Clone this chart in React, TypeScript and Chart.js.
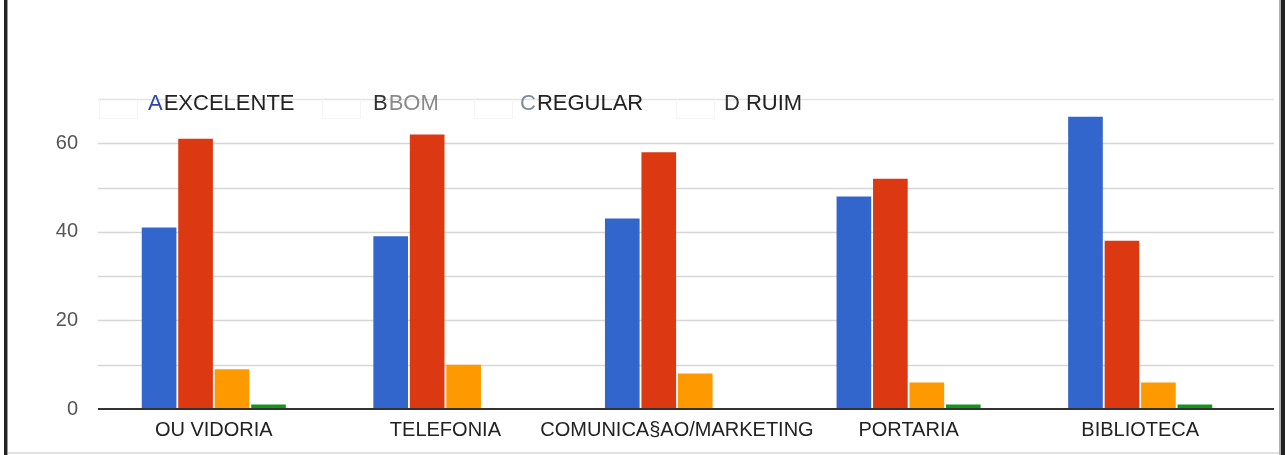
import React, { useEffect, useRef } from "react";
import { Chart, registerables } from "chart.js";

Chart.register(...registerables);

const categories = ["OU VIDORIA", "TELEFONIA", "COMUNICA§AO/MARKETING", "PORTARIA", "BIBLIOTECA"];
const excelente = [41, 39, 43, 48, 66];
const bom = [61, 62, 58, 52, 38];
const regular = [9, 10, 8, 6, 6];
const ruim = [1, 0, 0, 1, 1];
const seriesNames = ["EXCELENTE", "BOM", "REGULAR", "RUIM"];
const seriesLetters = ["A", "B", "C", "D"];
const seriesColors = ["#3366cc", "#dc3912", "#ff9900", "#109618"];
const yMax = 70;
const yStep = 10;
const yLabelStep = 20;

const FONT = "'Liberation Sans', Arial, sans-serif";

const gridPlugin = {
  id: "customGrid",
  beforeDatasetsDraw(chart: any) {
    const { ctx, chartArea, scales } = chart;
    const y = scales.y;
    const right = chartArea.right + 18;
    ctx.save();
    for (let v = yStep; v <= yMax; v += yStep) {
      const py = Math.round(y.getPixelForValue(v)) + 0.5;
      ctx.strokeStyle = v === yMax ? "#e4e4e4" : "#d6d6d6";
      ctx.lineWidth = 1.5;
      ctx.beginPath();
      ctx.moveTo(chartArea.left, py);
      ctx.lineTo(right, py);
      ctx.stroke();
    }
    ctx.restore();
  },
  afterDatasetsDraw(chart: any) {
    const { ctx, chartArea, scales } = chart;
    const y = scales.y;
    const py = y.getPixelForValue(0);
    ctx.save();
    ctx.strokeStyle = "#333333";
    ctx.lineWidth = 2;
    ctx.beginPath();
    ctx.moveTo(chartArea.left, py);
    ctx.lineTo(chartArea.right + 18, py);
    ctx.stroke();
    ctx.restore();
  },
};

const legendPositions = [148, 373, 520, 724];
const legendLetterColors = ["#2b47a8", "#333333", "#7d8a99", "#333333"];
const legendTextColors = ["#222222", "#8a8a8a", "#222222", "#222222"];
const legendBoxes = [99, 322, 474, 676];

export default function App() {
  const ref = useRef<HTMLCanvasElement | null>(null);

  useEffect(() => {
    if (!ref.current) return;
    const chart = new Chart(ref.current, {
      type: "bar",
      data: {
        labels: categories,
        datasets: [excelente, bom, regular, ruim].map((d, i) => ({
          label: seriesNames[i],
          data: d,
          backgroundColor: seriesColors[i],
          borderWidth: 0,
          categoryPercentage: 0.63,
          barPercentage: 0.95,
        })),
      },
      options: {
        responsive: false,
        animation: false,
        layout: { padding: { top: 99, right: 29, left: 0, bottom: 0 } },
        plugins: { legend: { display: false }, tooltip: { enabled: false } },
        scales: {
          x: {
            grid: { display: false, drawTicks: false },
            border: { display: false },
            ticks: {
              color: "#222222",
              font: { family: FONT, size: 20 },
              padding: 9,
              maxRotation: 0,
              autoSkip: false,
            },
            afterFit: (s: any) => {
              s.height = 46;
            },
          },
          y: {
            min: 0,
            max: yMax,
            grid: { display: false, drawTicks: false },
            border: { display: false },
            ticks: {
              stepSize: yStep,
              color: "#555555",
              font: { family: FONT, size: 20 },
              padding: 20,
              callback: (v: any) => (v % yLabelStep === 0 && v < yMax ? String(v) : ""),
            },
            afterFit: (s: any) => {
              s.width = 98;
            },
          },
        },
      },
      plugins: [gridPlugin],
    });
    return () => chart.destroy();
  }, []);

  return (
    <div
      style={{
        position: "fixed",
        left: 0,
        top: 0,
        width: 1285,
        height: 455,
        background: "#ffffff",
        overflow: "hidden",
      }}
    >
      <canvas ref={ref} width={1285} height={455} style={{ position: "absolute", left: 0, top: 0, width: 1285, height: 455 }} />
      {legendBoxes.map((x, i) => (
        <div
          key={"b" + i}
          style={{
            position: "absolute",
            left: x,
            top: 98,
            width: 39,
            height: 21,
            border: "1px solid #f4f4f4",
            boxSizing: "border-box",
          }}
        />
      ))}
      {seriesNames.map((n, i) => (
        <div
          key={n}
          style={{
            position: "absolute",
            left: legendPositions[i],
            top: 92,
            fontFamily: FONT,
            fontSize: 22,
            lineHeight: "22px",
            whiteSpace: "nowrap",
          }}
        >
          <span style={{ color: legendLetterColors[i] }}>{seriesLetters[i]}</span>
          <span style={{ color: legendTextColors[i], marginLeft: i === 3 ? 6 : 1 }}>{n}</span>
        </div>
      ))}
      <div style={{ position: "absolute", left: 4, top: 0, width: 3, height: 455, background: "#222222" }} />
      <div style={{ position: "absolute", left: 7, top: 0, width: 1, height: 455, background: "#9a9a9a" }} />
      <div style={{ position: "absolute", left: 1281, top: 0, width: 4, height: 455, background: "#222222" }} />
      <div style={{ position: "absolute", left: 1279, top: 0, width: 2, height: 455, background: "#b0b0b0" }} />
      <div style={{ position: "absolute", left: 8, top: 452, width: 1271, height: 2, background: "#e2e2e2" }} />
    </div>
  );
}
